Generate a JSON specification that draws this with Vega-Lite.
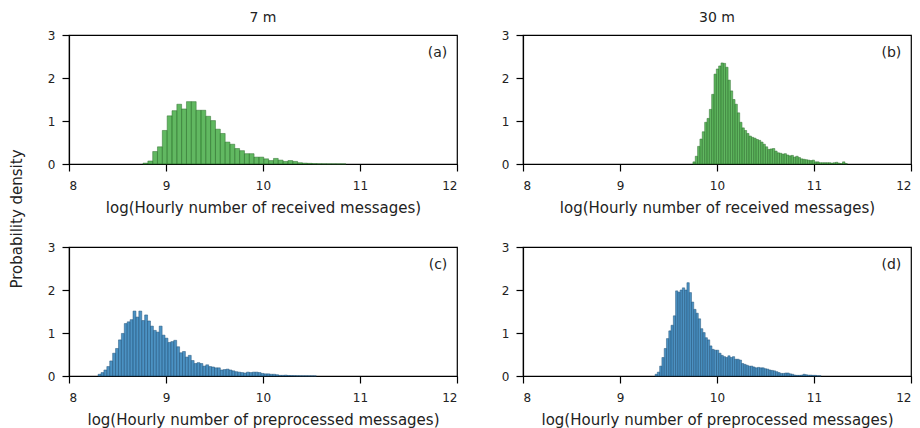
{
  "$schema": "https://vega.github.io/schema/vega-lite/v6.json",
  "background": "white",
  "padding": {"left": 9, "top": 10, "right": 5, "bottom": 0},
  "title": {"text": "Probability density", "orient": "left", "anchor": "middle", "fontSize": 15, "fontWeight": "normal", "font": "DejaVu Sans", "color": "#222", "offset": 22},
  "config": {
    "view": {"stroke": "#000", "strokeWidth": 1.2},
    "axis": {"grid": false, "domainColor": "#000", "domainWidth": 1.2, "tickColor": "#000", "tickWidth": 1.2, "labelColor": "#222", "titleColor": "#222", "labelFont": "DejaVu Sans", "titleFont": "DejaVu Sans", "labelFontSize": 12, "titleFontSize": 15, "titleFontWeight": "normal", "tickSize": 7, "format": "d"},
    "axisX": {"labelPadding": 9, "titlePadding": 9},
    "axisY": {"labelPadding": 7},
    "title": {"font": "DejaVu Sans", "fontSize": 14, "fontWeight": "normal", "color": "#222", "offset": 4},
    "text": {"font": "DejaVu Sans", "fontSize": 14, "color": "#222"}
  },
  "datasets": {
    "a": [
      {"x":8.763,"x2":8.813,"d":0.02},{"x":8.813,"x2":8.863,"d":0.07},{"x":8.863,"x2":8.912,"d":0.29},{"x":8.912,"x2":8.962,"d":0.40},{"x":8.962,"x2":9.012,"d":0.78},{"x":9.012,"x2":9.062,"d":1.12},{"x":9.062,"x2":9.112,"d":1.24},{"x":9.112,"x2":9.161,"d":1.39},{"x":9.161,"x2":9.211,"d":1.28},{"x":9.211,"x2":9.261,"d":1.45},{"x":9.261,"x2":9.311,"d":1.45},{"x":9.311,"x2":9.361,"d":1.25},{"x":9.361,"x2":9.410,"d":1.25},{"x":9.410,"x2":9.460,"d":1.11},{"x":9.460,"x2":9.510,"d":1.01},{"x":9.510,"x2":9.560,"d":0.81},{"x":9.560,"x2":9.610,"d":0.71},{"x":9.610,"x2":9.659,"d":0.51},{"x":9.659,"x2":9.709,"d":0.46},{"x":9.709,"x2":9.759,"d":0.36},{"x":9.759,"x2":9.809,"d":0.31},{"x":9.809,"x2":9.859,"d":0.24},{"x":9.859,"x2":9.908,"d":0.24},{"x":9.908,"x2":9.958,"d":0.16},{"x":9.958,"x2":10.008,"d":0.16},{"x":10.008,"x2":10.058,"d":0.12},{"x":10.058,"x2":10.108,"d":0.08},{"x":10.108,"x2":10.157,"d":0.13},{"x":10.157,"x2":10.207,"d":0.09},{"x":10.207,"x2":10.257,"d":0.06},{"x":10.257,"x2":10.307,"d":0.08},{"x":10.307,"x2":10.357,"d":0.06},{"x":10.357,"x2":10.406,"d":0.03},{"x":10.406,"x2":10.456,"d":0.02},{"x":10.456,"x2":10.506,"d":0.015},{"x":10.506,"x2":10.556,"d":0.008},{"x":10.556,"x2":10.606,"d":0.005},{"x":10.606,"x2":10.655,"d":0.004},{"x":10.655,"x2":10.705,"d":0.003},{"x":10.705,"x2":10.755,"d":0.003},{"x":10.755,"x2":10.805,"d":0.002},{"x":10.805,"x2":10.855,"d":0.002}
    ],
    "b": [
      {"x":9.752,"x2":9.776,"d":0.05},{"x":9.776,"x2":9.800,"d":0.18},{"x":9.800,"x2":9.824,"d":0.41},{"x":9.824,"x2":9.848,"d":0.58},{"x":9.848,"x2":9.873,"d":0.75},{"x":9.873,"x2":9.897,"d":0.97},{"x":9.897,"x2":9.921,"d":1.06},{"x":9.921,"x2":9.945,"d":1.27},{"x":9.945,"x2":9.969,"d":1.62},{"x":9.969,"x2":9.993,"d":2.09},{"x":9.993,"x2":10.017,"d":2.21},{"x":10.017,"x2":10.041,"d":2.28},{"x":10.041,"x2":10.065,"d":2.35},{"x":10.065,"x2":10.089,"d":2.34},{"x":10.089,"x2":10.114,"d":2.25},{"x":10.114,"x2":10.138,"d":1.95},{"x":10.138,"x2":10.162,"d":1.70},{"x":10.162,"x2":10.186,"d":1.50},{"x":10.186,"x2":10.210,"d":1.39},{"x":10.210,"x2":10.234,"d":1.19},{"x":10.234,"x2":10.258,"d":0.97},{"x":10.258,"x2":10.282,"d":0.84},{"x":10.282,"x2":10.306,"d":0.78},{"x":10.306,"x2":10.330,"d":0.71},{"x":10.330,"x2":10.355,"d":0.65},{"x":10.355,"x2":10.379,"d":0.62},{"x":10.379,"x2":10.403,"d":0.60},{"x":10.403,"x2":10.427,"d":0.57},{"x":10.427,"x2":10.451,"d":0.55},{"x":10.451,"x2":10.475,"d":0.51},{"x":10.475,"x2":10.499,"d":0.46},{"x":10.499,"x2":10.523,"d":0.40},{"x":10.523,"x2":10.547,"d":0.34},{"x":10.547,"x2":10.571,"d":0.35},{"x":10.571,"x2":10.596,"d":0.36},{"x":10.596,"x2":10.620,"d":0.30},{"x":10.620,"x2":10.644,"d":0.26},{"x":10.644,"x2":10.668,"d":0.25},{"x":10.668,"x2":10.692,"d":0.23},{"x":10.692,"x2":10.716,"d":0.24},{"x":10.716,"x2":10.740,"d":0.21},{"x":10.740,"x2":10.764,"d":0.19},{"x":10.764,"x2":10.788,"d":0.20},{"x":10.788,"x2":10.812,"d":0.16},{"x":10.812,"x2":10.837,"d":0.18},{"x":10.837,"x2":10.861,"d":0.15},{"x":10.861,"x2":10.885,"d":0.12},{"x":10.885,"x2":10.909,"d":0.11},{"x":10.909,"x2":10.933,"d":0.10},{"x":10.933,"x2":10.957,"d":0.09},{"x":10.957,"x2":10.981,"d":0.08},{"x":10.981,"x2":11.005,"d":0.09},{"x":11.005,"x2":11.029,"d":0.05},{"x":11.029,"x2":11.053,"d":0.05},{"x":11.053,"x2":11.078,"d":0.03},{"x":11.078,"x2":11.102,"d":0.03},{"x":11.102,"x2":11.126,"d":0.03},{"x":11.126,"x2":11.150,"d":0.03},{"x":11.150,"x2":11.174,"d":0.03},{"x":11.174,"x2":11.198,"d":0.02},{"x":11.198,"x2":11.222,"d":0.03},{"x":11.222,"x2":11.246,"d":0.04},{"x":11.246,"x2":11.270,"d":0.02},{"x":11.270,"x2":11.294,"d":0.01},{"x":11.294,"x2":11.319,"d":0.05},{"x":11.319,"x2":11.343,"d":0.01}
    ],
    "c": [
      {"x":8.30,"x2":8.33,"d":0.04},{"x":8.33,"x2":8.36,"d":0.08},{"x":8.36,"x2":8.39,"d":0.14},{"x":8.39,"x2":8.42,"d":0.22},{"x":8.42,"x2":8.45,"d":0.35},{"x":8.45,"x2":8.48,"d":0.53},{"x":8.48,"x2":8.51,"d":0.64},{"x":8.51,"x2":8.54,"d":0.84},{"x":8.54,"x2":8.57,"d":0.99},{"x":8.57,"x2":8.60,"d":1.22},{"x":8.60,"x2":8.63,"d":1.26},{"x":8.63,"x2":8.66,"d":1.31},{"x":8.66,"x2":8.69,"d":1.51},{"x":8.69,"x2":8.72,"d":1.37},{"x":8.72,"x2":8.75,"d":1.51},{"x":8.75,"x2":8.78,"d":1.29},{"x":8.78,"x2":8.81,"d":1.42},{"x":8.81,"x2":8.84,"d":1.28},{"x":8.84,"x2":8.87,"d":1.16},{"x":8.87,"x2":8.90,"d":1.06},{"x":8.90,"x2":8.93,"d":1.02},{"x":8.93,"x2":8.96,"d":1.16},{"x":8.96,"x2":8.99,"d":0.95},{"x":8.99,"x2":9.02,"d":0.88},{"x":9.02,"x2":9.05,"d":0.78},{"x":9.05,"x2":9.08,"d":0.80},{"x":9.08,"x2":9.11,"d":0.83},{"x":9.11,"x2":9.14,"d":0.68},{"x":9.14,"x2":9.17,"d":0.54},{"x":9.17,"x2":9.20,"d":0.57},{"x":9.20,"x2":9.23,"d":0.44},{"x":9.23,"x2":9.26,"d":0.48},{"x":9.26,"x2":9.29,"d":0.36},{"x":9.29,"x2":9.32,"d":0.29},{"x":9.32,"x2":9.35,"d":0.31},{"x":9.35,"x2":9.38,"d":0.29},{"x":9.38,"x2":9.41,"d":0.23},{"x":9.41,"x2":9.44,"d":0.26},{"x":9.44,"x2":9.47,"d":0.22},{"x":9.47,"x2":9.50,"d":0.21},{"x":9.50,"x2":9.53,"d":0.19},{"x":9.53,"x2":9.56,"d":0.19},{"x":9.56,"x2":9.59,"d":0.14},{"x":9.59,"x2":9.62,"d":0.15},{"x":9.62,"x2":9.65,"d":0.16},{"x":9.65,"x2":9.68,"d":0.14},{"x":9.68,"x2":9.71,"d":0.12},{"x":9.71,"x2":9.74,"d":0.10},{"x":9.74,"x2":9.77,"d":0.09},{"x":9.77,"x2":9.80,"d":0.08},{"x":9.80,"x2":9.83,"d":0.07},{"x":9.83,"x2":9.86,"d":0.09},{"x":9.86,"x2":9.89,"d":0.08},{"x":9.89,"x2":9.92,"d":0.09},{"x":9.92,"x2":9.95,"d":0.09},{"x":9.95,"x2":9.98,"d":0.08},{"x":9.98,"x2":10.01,"d":0.06},{"x":10.01,"x2":10.04,"d":0.05},{"x":10.04,"x2":10.07,"d":0.05},{"x":10.07,"x2":10.10,"d":0.04},{"x":10.10,"x2":10.13,"d":0.04},{"x":10.13,"x2":10.16,"d":0.03},{"x":10.16,"x2":10.19,"d":0.015},{"x":10.19,"x2":10.22,"d":0.015},{"x":10.22,"x2":10.25,"d":0.02},{"x":10.25,"x2":10.28,"d":0.012},{"x":10.28,"x2":10.31,"d":0.01},{"x":10.31,"x2":10.34,"d":0.008},{"x":10.34,"x2":10.37,"d":0.006},{"x":10.37,"x2":10.40,"d":0.005},{"x":10.40,"x2":10.43,"d":0.004},{"x":10.43,"x2":10.46,"d":0.004},{"x":10.46,"x2":10.49,"d":0.003},{"x":10.49,"x2":10.52,"d":0.003},{"x":10.52,"x2":10.55,"d":0.002}
    ],
    "d": [
      {"x":9.362,"x2":9.385,"d":0.04},{"x":9.385,"x2":9.409,"d":0.09},{"x":9.409,"x2":9.432,"d":0.23},{"x":9.432,"x2":9.456,"d":0.43},{"x":9.456,"x2":9.479,"d":0.64},{"x":9.479,"x2":9.503,"d":0.87},{"x":9.503,"x2":9.526,"d":1.05},{"x":9.526,"x2":9.550,"d":1.18},{"x":9.550,"x2":9.573,"d":1.40},{"x":9.573,"x2":9.596,"d":1.98},{"x":9.596,"x2":9.620,"d":1.95},{"x":9.620,"x2":9.643,"d":2.00},{"x":9.643,"x2":9.667,"d":2.05},{"x":9.667,"x2":9.690,"d":2.00},{"x":9.690,"x2":9.714,"d":2.17},{"x":9.714,"x2":9.737,"d":1.94},{"x":9.737,"x2":9.760,"d":1.72},{"x":9.760,"x2":9.784,"d":1.55},{"x":9.784,"x2":9.807,"d":1.46},{"x":9.807,"x2":9.831,"d":1.33},{"x":9.831,"x2":9.854,"d":1.10},{"x":9.854,"x2":9.878,"d":1.01},{"x":9.878,"x2":9.901,"d":0.89},{"x":9.901,"x2":9.925,"d":0.84},{"x":9.925,"x2":9.948,"d":0.70},{"x":9.948,"x2":9.971,"d":0.62},{"x":9.971,"x2":9.995,"d":0.60},{"x":9.995,"x2":10.018,"d":0.60},{"x":10.018,"x2":10.042,"d":0.53},{"x":10.042,"x2":10.065,"d":0.48},{"x":10.065,"x2":10.089,"d":0.45},{"x":10.089,"x2":10.112,"d":0.43},{"x":10.112,"x2":10.135,"d":0.47},{"x":10.135,"x2":10.159,"d":0.43},{"x":10.159,"x2":10.182,"d":0.45},{"x":10.182,"x2":10.206,"d":0.39},{"x":10.206,"x2":10.229,"d":0.39},{"x":10.229,"x2":10.253,"d":0.37},{"x":10.253,"x2":10.276,"d":0.29},{"x":10.276,"x2":10.300,"d":0.27},{"x":10.300,"x2":10.323,"d":0.25},{"x":10.323,"x2":10.346,"d":0.23},{"x":10.346,"x2":10.370,"d":0.23},{"x":10.370,"x2":10.393,"d":0.21},{"x":10.393,"x2":10.417,"d":0.19},{"x":10.417,"x2":10.440,"d":0.20},{"x":10.440,"x2":10.464,"d":0.19},{"x":10.464,"x2":10.487,"d":0.19},{"x":10.487,"x2":10.510,"d":0.17},{"x":10.510,"x2":10.534,"d":0.16},{"x":10.534,"x2":10.557,"d":0.14},{"x":10.557,"x2":10.581,"d":0.13},{"x":10.581,"x2":10.604,"d":0.12},{"x":10.604,"x2":10.628,"d":0.10},{"x":10.628,"x2":10.651,"d":0.08},{"x":10.651,"x2":10.675,"d":0.06},{"x":10.675,"x2":10.698,"d":0.06},{"x":10.698,"x2":10.721,"d":0.07},{"x":10.721,"x2":10.745,"d":0.07},{"x":10.745,"x2":10.768,"d":0.05},{"x":10.768,"x2":10.792,"d":0.04},{"x":10.792,"x2":10.815,"d":0.02},{"x":10.815,"x2":10.839,"d":0.015},{"x":10.839,"x2":10.862,"d":0.015},{"x":10.862,"x2":10.886,"d":0.02},{"x":10.886,"x2":10.909,"d":0.04},{"x":10.909,"x2":10.932,"d":0.03},{"x":10.932,"x2":10.956,"d":0.02},{"x":10.956,"x2":10.979,"d":0.02},{"x":10.979,"x2":11.003,"d":0.015},{"x":11.003,"x2":11.026,"d":0.015},{"x":11.026,"x2":11.050,"d":0.005},{"x":11.050,"x2":11.073,"d":0.004}
    ]
  },
  "columns": 2,
  "bounds": "flush",
  "spacing": {"row": 83, "column": 66},
  "concat": [
    {
      "width": 388, "height": 129,
      "title": "7 m",
      "layer": [
        {"data": {"name": "a"},
         "mark": {"type": "bar", "fill": "#2ca02c", "fillOpacity": 0.75, "stroke": "#2f6f2f", "strokeWidth": 0.5},
         "encoding": {
           "x": {"field": "x", "type": "quantitative", "scale": {"domain": [8, 12], "nice": false}, "axis": {"values": [8, 9, 10, 11, 12], "title": "log(Hourly number of received messages)"}},
           "x2": {"field": "x2"},
           "y": {"field": "d", "type": "quantitative", "scale": {"domain": [0, 3], "nice": false}, "axis": {"values": [0, 1, 2, 3], "title": null}},
           "y2": {"datum": 0}
         }},
        {"data": {"values": [{"lab": "(a)"}]},
         "mark": {"type": "text", "align": "right", "baseline": "middle"},
         "encoding": {"x": {"datum": 11.9, "type": "quantitative"}, "y": {"datum": 2.57, "type": "quantitative"}, "text": {"field": "lab"}}}
      ]
    },
    {
      "width": 388, "height": 129,
      "title": "30 m",
      "layer": [
        {"data": {"name": "b"},
         "mark": {"type": "bar", "fill": "#2ca02c", "fillOpacity": 0.75, "stroke": "#2f6f2f", "strokeWidth": 0.5},
         "encoding": {
           "x": {"field": "x", "type": "quantitative", "scale": {"domain": [8, 12], "nice": false}, "axis": {"values": [8, 9, 10, 11, 12], "title": "log(Hourly number of received messages)"}},
           "x2": {"field": "x2"},
           "y": {"field": "d", "type": "quantitative", "scale": {"domain": [0, 3], "nice": false}, "axis": {"values": [0, 1, 2, 3], "title": null}},
           "y2": {"datum": 0}
         }},
        {"data": {"values": [{"lab": "(b)"}]},
         "mark": {"type": "text", "align": "right", "baseline": "middle"},
         "encoding": {"x": {"datum": 11.9, "type": "quantitative"}, "y": {"datum": 2.57, "type": "quantitative"}, "text": {"field": "lab"}}}
      ]
    },
    {
      "width": 388, "height": 129,
      "layer": [
        {"data": {"name": "c"},
         "mark": {"type": "bar", "fill": "#1f77b4", "fillOpacity": 0.8, "stroke": "#24557a", "strokeWidth": 0.5},
         "encoding": {
           "x": {"field": "x", "type": "quantitative", "scale": {"domain": [8, 12], "nice": false}, "axis": {"values": [8, 9, 10, 11, 12], "title": "log(Hourly number of preprocessed messages)"}},
           "x2": {"field": "x2"},
           "y": {"field": "d", "type": "quantitative", "scale": {"domain": [0, 3], "nice": false}, "axis": {"values": [0, 1, 2, 3], "title": null}},
           "y2": {"datum": 0}
         }},
        {"data": {"values": [{"lab": "(c)"}]},
         "mark": {"type": "text", "align": "right", "baseline": "middle"},
         "encoding": {"x": {"datum": 11.9, "type": "quantitative"}, "y": {"datum": 2.57, "type": "quantitative"}, "text": {"field": "lab"}}}
      ]
    },
    {
      "width": 388, "height": 129,
      "layer": [
        {"data": {"name": "d"},
         "mark": {"type": "bar", "fill": "#1f77b4", "fillOpacity": 0.8, "stroke": "#24557a", "strokeWidth": 0.5},
         "encoding": {
           "x": {"field": "x", "type": "quantitative", "scale": {"domain": [8, 12], "nice": false}, "axis": {"values": [8, 9, 10, 11, 12], "title": "log(Hourly number of preprocessed messages)"}},
           "x2": {"field": "x2"},
           "y": {"field": "d", "type": "quantitative", "scale": {"domain": [0, 3], "nice": false}, "axis": {"values": [0, 1, 2, 3], "title": null}},
           "y2": {"datum": 0}
         }},
        {"data": {"values": [{"lab": "(d)"}]},
         "mark": {"type": "text", "align": "right", "baseline": "middle"},
         "encoding": {"x": {"datum": 11.9, "type": "quantitative"}, "y": {"datum": 2.57, "type": "quantitative"}, "text": {"field": "lab"}}}
      ]
    }
  ]
}
